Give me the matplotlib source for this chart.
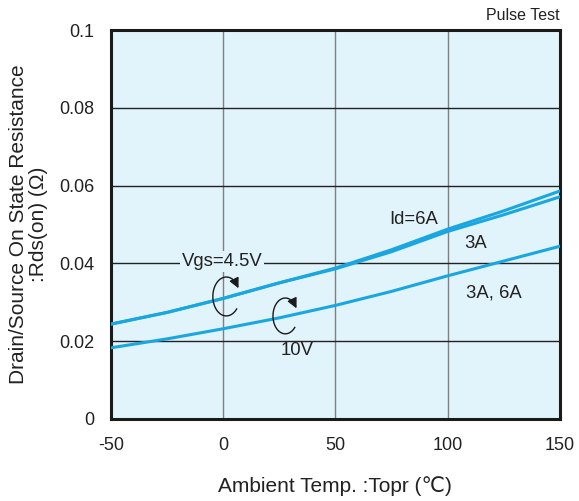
import numpy as np
import matplotlib
matplotlib.use('Agg')
import matplotlib.pyplot as plt

plt.rcParams['font.family'] = ['Liberation Sans', 'DejaVu Sans']
plt.rcParams['axes.unicode_minus'] = False

# temperature (C) and Rds(on) (ohm)
temp = [-50, -25, 0, 25, 50, 75, 100, 125, 150]
rds_45v_6a = [0.0244, 0.0274, 0.0310, 0.0350, 0.0388, 0.0435, 0.0488, 0.0535, 0.0586]
rds_45v_3a = [0.0244, 0.0274, 0.0310, 0.0350, 0.0386, 0.0430, 0.0482, 0.0525, 0.0571]
rds_10v = [0.0183, 0.0206, 0.0232, 0.0260, 0.0292, 0.0328, 0.0368, 0.0406, 0.0444]

xticks = [-50, 0, 50, 100, 150]
yticks = [0, 0.02, 0.04, 0.06, 0.08, 0.1]
ytick_labels = ['0', '0.02', '0.04', '0.06', '0.08', '0.1']

line_col = '#1aa7e1'
bg = '#e1f3fb'
txt = '#222222'

fig = plt.figure(figsize=(5.79, 5.01), dpi=100)
ax = fig.add_axes([0.1917, 0.1637, 0.775, 0.7763])
ax.set_facecolor(bg)

ax.plot(temp, rds_45v_6a, color=line_col, lw=2.2, zorder=3)
ax.plot(temp, rds_45v_3a, color=line_col, lw=2.2, zorder=3)
ax.plot(temp, rds_10v, color=line_col, lw=2.2, zorder=3)

ax.set_xlim(-50, 150)
ax.set_ylim(0, 0.1)
ax.set_xticks(xticks)
ax.set_yticks(yticks)
ax.set_yticklabels(ytick_labels)
ax.tick_params(length=0, labelsize=13, pad=12, colors=txt)
ax.tick_params(axis='x', pad=13)

for xv in xticks[1:-1]:
    ax.axvline(xv, color='#808080', lw=1.0, zorder=1)
for yv in yticks[1:-1]:
    ax.axhline(yv, color='#222222', lw=1.0, zorder=1)

for s in ax.spines.values():
    s.set_linewidth(2.2)
    s.set_color('#1a1a1a')

ax.set_xlabel('Ambient Temp. :Topr (℃)', fontsize=15, labelpad=16, color=txt)
ax.set_ylabel('Drain/Source On State Resistance\n:Rds(on) (Ω)', fontsize=15, labelpad=8,
              color=txt, linespacing=1.05)

# labels
ax.text(-0.5, 0.0404, 'Vgs=4.5V', fontsize=13.3, ha='center', va='center', color=txt,
        bbox=dict(facecolor=bg, edgecolor='none', pad=1.5), zorder=2)
ax.text(33, 0.0177, '10V', fontsize=13.3, ha='center', va='center', color=txt)
ax.text(85, 0.0514, 'Id=6A', fontsize=13.3, ha='center', va='center', color=txt)
ax.text(112.5, 0.0452, '3A', fontsize=13.3, ha='center', va='center', color=txt)
ax.text(120.5, 0.0324, '3A, 6A', fontsize=13.3, ha='center', va='center', color=txt)
ax.text(1.0, 1.017, 'Pulse Test', transform=ax.transAxes, fontsize=11.5, ha='right',
        va='bottom', color=txt)

# circular arrows marking the curves
def loop_arrow(cx, cy, w, h):
    t = np.deg2rad(np.linspace(35, 320, 80))
    ax.plot(cx + w / 2 * np.cos(t), cy + h / 2 * np.sin(t), color='#1a1a1a', lw=1.0, zorder=4)
    t0 = np.deg2rad(45)
    t1 = np.deg2rad(25)
    p0 = (cx + w / 2 * np.cos(t0), cy + h / 2 * np.sin(t0))
    p1 = (cx + w / 2 * np.cos(t1), cy + h / 2 * np.sin(t1))
    ax.annotate('', xy=p1, xytext=p0,
                arrowprops=dict(arrowstyle='-|>,head_length=0.6,head_width=0.3',
                                color='#1a1a1a', lw=1.0, shrinkA=0, shrinkB=0), zorder=4)

loop_arrow(1.4, 0.0315, 12, 0.0100)
loop_arrow(27.7, 0.0265, 11, 0.0092)

fig.savefig('out.png', dpi=100)
